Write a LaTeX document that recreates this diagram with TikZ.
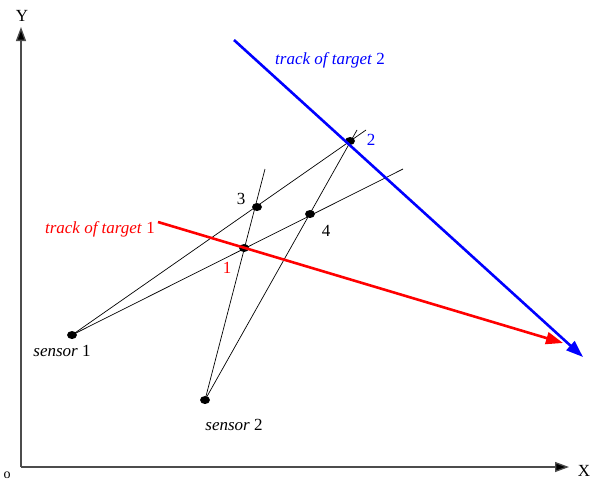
\documentclass[tikz,border=0pt]{standalone}
\usepackage{fontspec}
\setmainfont{Liberation Serif}
\usetikzlibrary{arrows.meta,shapes.geometric}
\begin{document}
\begin{tikzpicture}[x=1pt,y=-1pt,
  lbl/.style={font=\fontsize{17}{19}\selectfont, inner sep=0pt},
  dot/.style={fill=black, ellipse, minimum width=10pt, minimum height=8pt, inner sep=0pt},
  ray/.style={black, line width=0.7pt},
  axis/.style={draw=black!70, line width=1.3pt, -{Triangle[length=14pt,width=10pt,fill=black]}},
  track/.style={line width=2.6pt, -{Triangle[length=17pt,width=12pt]}}]
\useasboundingbox (0,0) rectangle (594,482);
% axes
\coordinate (O) at (21,467);
\coordinate (Ytip) at (21,27);
\coordinate (Xtip) at (569,467);
\draw[axis] (O) -- (Ytip);
\draw[axis] (O) -- (Xtip);
\node[lbl] (ylab) at (22,16) {Y};
\node[lbl] (xlab) at (584,471) {X};
\node[lbl, font=\fontsize{14}{16}\selectfont] (olab) at (7,475) {o};
% sensors and intersections
\node[dot] (s1) at (72,335) {};
\node[dot] (s2) at (205,400) {};
\node[dot] (p1) at (244,248) {};
\node[dot] (p2) at (350,141) {};
\node[dot] (p3) at (257,207) {};
\node[dot] (p4) at (310,214) {};
\coordinate (e1a) at (366,130);
\coordinate (e1b) at (403,169);
\coordinate (e2a) at (265,169);
\coordinate (e2b) at (357,130);
\draw[ray] (s1.center) -- (e1a);
\draw[ray] (s1.center) -- (e1b);
\draw[ray] (s2.center) -- (e2a);
\draw[ray] (s2.center) -- (e2b);
% tracks
\coordinate (t1s) at (158,222);
\coordinate (t1e) at (563,343);
\coordinate (t2s) at (234,40);
\coordinate (t2e) at (583,357);
\draw[track, red] (t1s) -- (t1e);
\draw[track, blue] (t2s) -- (t2e);
% labels
\node[lbl, red, anchor=east] (lt1) at (155,229) {\textit{track of target} 1};
\node[lbl, blue, anchor=west] (lt2) at (275,60) {\textit{track of target} 2};
\node[lbl, blue] (l2) at (371,140) {2};
\node[lbl] (l3) at (241,199) {3};
\node[lbl] (l4) at (326,231) {4};
\node[lbl, red] (l1) at (227,268) {1};
\node[lbl] (ls1) at (62,351) {\textit{sensor} 1};
\node[lbl] (ls2) at (234,425) {\textit{sensor} 2};
\end{tikzpicture}
\end{document}
